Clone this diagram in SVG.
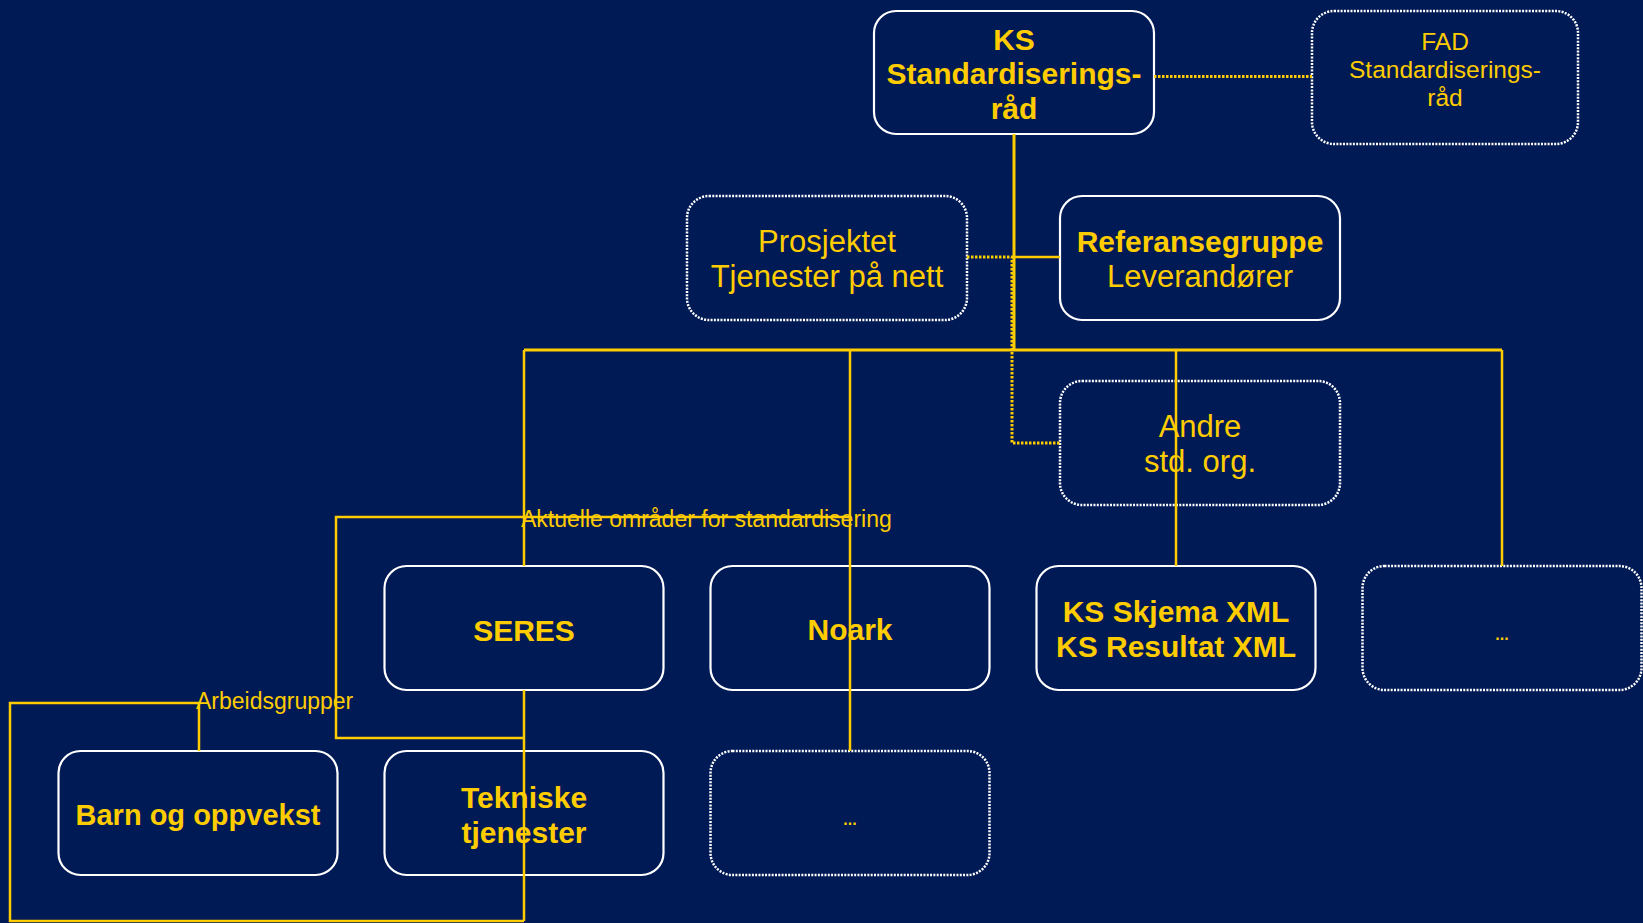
<svg xmlns="http://www.w3.org/2000/svg" width="1643" height="923" viewBox="0 0 1643 923">
<style>
.box{fill:#001a55;stroke:#ffffff;stroke-width:2.2}
.dbox{fill:#001a55;stroke:#ffffff;stroke-width:2.5;stroke-dasharray:2 1.3}
.t{font-family:"Liberation Sans",Arial,sans-serif;fill:#ffcc00;text-anchor:middle}
.b{font-weight:bold;font-size:30px}
.r{font-size:31px}
.s{font-size:24.5px}
.lbl{font-family:"Liberation Sans",Arial,sans-serif;fill:#ffcc00;font-size:23px}
.c{fill:none;stroke:#ffcc00;stroke-width:2.5}
.cd{fill:none;stroke:#ffcc00;stroke-width:3;stroke-dasharray:2.5 1.5}
</style>
<rect x="0" y="0" width="1643" height="923" fill="#001a55"/>
<g id="ks">
<rect class="box" x="874" y="11" width="280" height="123" rx="22"/>
<text class="t b" x="1014" y="50">KS</text>
<text class="t b" x="1014" y="84">Standardiserings-</text>
<text class="t b" x="1014" y="119">råd</text>
</g>
<g id="fad">
<rect class="dbox" x="1312" y="11" width="266" height="133" rx="22"/>
<text class="t s" x="1445" y="50">FAD</text>
<text class="t s" x="1445" y="78">Standardiserings-</text>
<text class="t s" x="1445" y="106">råd</text>
</g>
<g id="prosjektet">
<rect class="dbox" x="687" y="196" width="280" height="124" rx="22"/>
<text class="t r" x="827" y="252">Prosjektet</text>
<text class="t r" x="827" y="287">Tjenester på nett</text>
</g>
<g id="referansegruppe">
<rect class="box" x="1060" y="196" width="280" height="124" rx="22"/>
<text class="t b" x="1200" y="252">Referansegruppe</text>
<text class="t r" x="1200" y="287">Leverandører</text>
</g>
<g id="andre">
<rect class="dbox" x="1060" y="381" width="280" height="124" rx="22"/>
<text class="t r" x="1200" y="437">Andre</text>
<text class="t r" x="1200" y="472">std. org.</text>
</g>
<g id="seres">
<rect class="box" x="384.5" y="566" width="279" height="124" rx="22"/>
<text class="t b" x="524" y="641">SERES</text>
</g>
<g id="noark">
<rect class="box" x="710.5" y="566" width="279" height="124" rx="22"/>
<text class="t b" x="850" y="640">Noark</text>
</g>
<g id="ksxml">
<rect class="box" x="1036.5" y="566" width="279" height="124" rx="22"/>
<text class="t b" x="1176" y="622">KS Skjema XML</text>
<text class="t b" x="1176" y="657">KS Resultat XML</text>
</g>
<g id="more-right">
<rect class="dbox" x="1362.5" y="566" width="279" height="124" rx="22"/>
<text class="t" style="font-size:16px;font-weight:bold" x="1502" y="640">...</text>
</g>
<g id="barn">
<rect class="box" x="58.5" y="751" width="279" height="124" rx="22"/>
<text class="t b" style="font-size:29px" x="198" y="825">Barn og oppvekst</text>
</g>
<g id="tekniske">
<rect class="box" x="384.5" y="751" width="279" height="124" rx="22"/>
<text class="t b" x="524" y="808">Tekniske</text>
<text class="t b" x="524" y="843">tjenester</text>
</g>
<g id="more-bottom">
<rect class="dbox" x="710.5" y="751" width="279" height="124" rx="22"/>
<text class="t" style="font-size:16px;font-weight:bold" x="850" y="825">...</text>
</g>
<g id="connectors">
<line class="c" style="stroke-width:3" x1="1014" y1="134" x2="1014" y2="350"/>
<line class="c" style="stroke-width:3" x1="524" y1="350" x2="1502" y2="350"/>
<line class="c" x1="1014" y1="257" x2="1060" y2="257"/>
<line class="c" x1="524" y1="350" x2="524" y2="566"/>
<line class="c" x1="850" y1="350" x2="850" y2="751"/>
<line class="c" x1="1176" y1="350" x2="1176" y2="566"/>
<line class="c" x1="1502" y1="350" x2="1502" y2="566"/>
<line class="cd" x1="1154" y1="76.5" x2="1312" y2="76.5"/>
<polyline class="cd" points="967,257 1012,257 1012,443 1060,443"/>
<line class="c" x1="524" y1="690" x2="524" y2="921"/>
<polyline class="c" points="850,517 336,517 336,738 524,738"/>
<polyline class="c" points="199,751 199,703 10,703 10,921 524,921"/>
</g>
<g id="labels">
<text class="lbl" x="521" y="527">Aktuelle områder for standardisering</text>
<text class="lbl" x="196" y="709">Arbeidsgrupper</text>
</g>
</svg>
